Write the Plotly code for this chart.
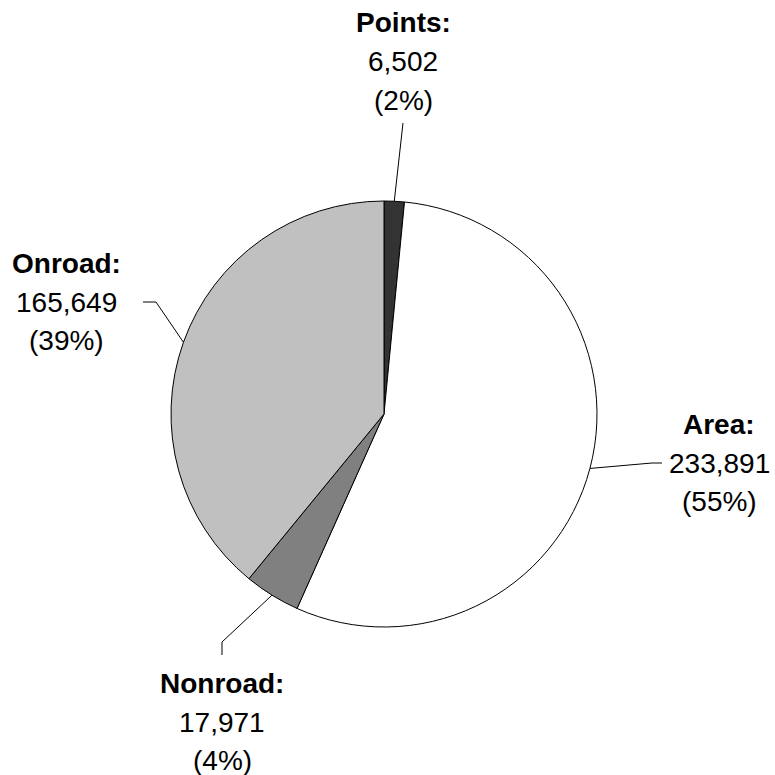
import math
import plotly.graph_objects as go

categories = ["Points", "Area", "Nonroad", "Onroad"]
values = [6502, 233891, 17971, 165649]
colors = ["#333333", "#ffffff", "#808080", "#c0c0c0"]

W = H = 775
CX, CY, R = 384, 414, 213  # pie centre / radius in pixels (from top-left)

# value-line centres (pixels) and leader-line elbows/ends (pixels)
label_pos = {"Points": (403, 62), "Area": (719, 463), "Nonroad": (222, 722), "Onroad": (66, 302)}
LINE_UP, LINE_DOWN = 39, 38
leader_pts = {
    "Points": [(403, 123)],
    "Area": [(652, 463), (662, 463)],
    "Nonroad": [(222, 642), (222, 655)],
    "Onroad": [(156, 302), (143, 302)],
}

def px(x):
    return x / W

def py(y):
    return 1 - y / H

fig = go.Figure(go.Pie(
    labels=categories,
    values=values,
    sort=False,
    direction="clockwise",
    rotation=0,
    marker=dict(colors=colors, line=dict(color="#000000", width=1)),
    textinfo="none",
    hoverinfo="label+value+percent",
    showlegend=False,
    domain=dict(x=[px(CX - R), px(CX + R)], y=[py(CY + R), py(CY - R)]),
))

font = dict(family="Liberation Sans, Arial, sans-serif", size=28, color="#000000")
total = sum(values)
cum = 0
shapes = []
annotations = []
for cat, v in zip(categories, values):
    mid = (cum + v / 2) / total * 2 * math.pi
    cum += v
    sx = CX + R * math.sin(mid)
    sy = CY - R * math.cos(mid)
    pts = [(sx, sy)] + leader_pts[cat]
    path = "M " + " L ".join(f"{px(x):.5f},{py(y):.5f}" for x, y in pts)
    shapes.append(dict(type="path", path=path, xref="paper", yref="paper",
                       line=dict(color="#000000", width=1)))
    pct = round(v / total * 100)
    lx, ly = label_pos[cat]
    for txt, dy in ((f"<b>{cat}:</b>", -LINE_UP), (f"{v:,}", 0), (f"({pct}%)", LINE_DOWN)):
        annotations.append(dict(
            x=px(lx), y=py(ly + dy), xref="paper", yref="paper",
            text=txt, showarrow=False, xanchor="center", yanchor="middle",
            align="center", font=font, borderpad=0,
        ))

fig.update_layout(
    width=W, height=H,
    margin=dict(l=0, r=0, t=0, b=0),
    paper_bgcolor="#ffffff", plot_bgcolor="#ffffff",
    shapes=shapes, annotations=annotations,
)

fig.write_html("out.html", config={"displayModeBar": False},
               post_script="document.body.style.margin='0px';document.body.style.padding='0px';")
